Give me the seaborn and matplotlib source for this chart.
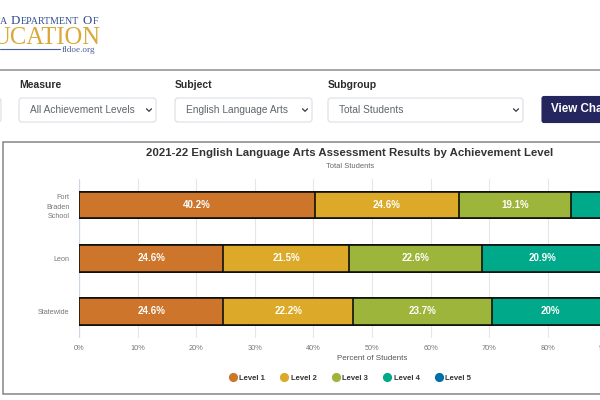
import numpy as np
import pandas as pd
import matplotlib
matplotlib.use("Agg")
import matplotlib.pyplot as plt
from matplotlib.patches import FancyBboxPatch, Rectangle
from matplotlib.lines import Line2D
import seaborn as sns

districts = ["Fort\nBraden\nSchool", "Leon", "Statewide"]
levels = ["Level 1", "Level 2", "Level 3", "Level 4", "Level 5"]
level_1 = [40.2, 24.6, 24.6]
level_2 = [24.6, 21.5, 22.2]
level_3 = [19.1, 22.6, 23.7]
level_4 = [14.0, 20.9, 20.0]
level_5 = [2.1, 10.4, 9.5]
colors = ["#CC752B", "#DCAA28", "#9DB53A", "#00A98A", "#006FA6"]
x_ticks = [0, 10, 20, 30, 40, 50, 60, 70, 80, 90, 100]

sns.set_theme(style="white")
plt.rcParams["font.family"] = ["Liberation Sans", "DejaVu Sans"]

W, H = 600, 400
fig = plt.figure(figsize=(6, 4), dpi=100, facecolor="white")

# page furniture, in pixel coordinates
bg = fig.add_axes([0, 0, 1, 1], zorder=0)
bg.set_xlim(0, W)
bg.set_ylim(H, 0)
bg.axis("off")

NAVY = "#34508F"
GOLD = "#D9A93A"
runs = [("A", 7.2, 3.5), ("D", 9.3, 0), ("EPARTMENT", 7.2, 3.5), ("O", 9.3, 0), ("F", 7.2, 0)]
rend = fig.canvas.get_renderer()
x = 0
for s, size, gap in runs:
    t = bg.text(x, 23.5, s, color=NAVY, fontsize=size,
                family="Liberation Serif", va="baseline", ha="left")
    x += t.get_window_extent(rend).width + 0.3 + gap
bg.text(-8, 44, "UCATION", color=GOLD, fontsize=17.7, family="Liberation Serif",
        va="baseline", ha="left")
bg.plot([0, 60], [49, 49], color="#4A5F9A", lw=0.8)
bg.text(62, 52, "fldoe.org", color="#4A5F9A", fontsize=6.6, family="Liberation Serif",
        va="baseline", ha="left")
bg.add_patch(Rectangle((0, 69.2), W, 1.8, color="#A8A8A8", lw=0))


def select(x0, x1, label, text, chevron=True):
    bg.add_patch(FancyBboxPatch((x0, 98), x1 - x0, 24,
                                boxstyle="round,pad=0,rounding_size=3", mutation_scale=1,
                                fc="white", ec="#DEE2E6", lw=0.9))
    if label:
        bg.text(x0, 85, label, color="#2B2B2B", fontsize=7.5, fontweight="bold",
                va="center", ha="left")
    if text:
        bg.text(x0 + 11, 110, text, color="#5F666D", fontsize=7.25, va="center", ha="left")
    if chevron:
        cx = x1 - 7
        bg.plot([cx - 2.5, cx, cx + 2.5], [108.8, 111.3, 108.8], color="#343A40", lw=0.9)


select(-20, 1, "", "", chevron=False)
select(19, 156, "Measure", "All Achievement Levels")
select(175, 312, "Subject", "English Language Arts")
select(328, 523, "Subgroup", "Total Students")
bg.add_patch(FancyBboxPatch((542, 96.5), 80, 26, boxstyle="round,pad=0,rounding_size=2",
                            mutation_scale=1, fc="#26265F", ec="#26265F", lw=0.8))
bg.text(551, 109, "View Chart", color="white", fontsize=8.4, fontweight="bold",
        va="center", ha="left", clip_on=False)

bg.add_patch(Rectangle((3, 141.5), 640, 252.5, fc="white", ec="#858585", lw=1.1))
bg.text(350, 153, "2021-22 English Language Arts Assessment Results by Achievement Level",
        color="#333333", fontsize=8.2, fontweight="bold", ha="center", va="center")
bg.text(350, 166.5, "Total Students", color="#666666", fontsize=5.4, ha="center", va="center")

# chart
ax = fig.add_axes([79 / W, (H - 338) / H, 586 / W, (338 - 178.5) / H], zorder=1)
ax.patch.set_alpha(0)

values = np.array([level_1, level_2, level_3, level_4, level_5])
cum = np.cumsum(values, axis=0)
for i in range(len(levels) - 1, -1, -1):
    df = pd.DataFrame({"district": districts, "end": cum[i]})
    sns.barplot(data=df, x="end", y="district", color=colors[i], saturation=1,
                width=0.5, edgecolor="#111111", linewidth=1.2, ax=ax, zorder=3 + (5 - i) * 0.1)

starts = np.vstack([np.zeros(3), cum[:-1]])
for i in range(len(levels)):
    for j in range(len(districts)):
        val = values[i, j]
        ax.text(starts[i, j] + val / 2, j, f"{val:g}%", color="white", fontsize=7.0,
                fontweight="bold", ha="center", va="center", zorder=6, clip_on=True)

ax.set_xlim(0, 100)
ax.set_ylim(2.5, -0.5)
ax.set_xticks(x_ticks)
ax.set_xticklabels([f"{v}%" for v in x_ticks], color="#777777", fontsize=5.3)
ax.tick_params(axis="x", length=0, pad=5)
ax.tick_params(axis="y", length=0, pad=7, labelsize=5.2, labelcolor="#777777")
for lab in ax.get_yticklabels():
    lab.set_linespacing(1.45)
ax.grid(axis="x", color="#E6E6E6", lw=0.8, zorder=0)
ax.set_axisbelow(True)
for s in ax.spines.values():
    s.set_visible(False)
ax.axvline(0, color="#CCD6EB", lw=0.9, zorder=1)
ax.set_ylabel("")
ax.set_xlabel("")
bg.text(372, 358, "Percent of Students", color="#555555", fontsize=5.8, ha="center", va="center")

handles = [Line2D([], [], marker="o", linestyle="none", markersize=5.6,
                  markerfacecolor=c, markeredgecolor=c) for c in colors]
leg = bg.legend(handles, levels, ncol=5, loc="center", bbox_to_anchor=(350 / W, (H - 378) / H),
                bbox_transform=fig.transFigure, frameon=False, fontsize=5.5,
                columnspacing=2.0, handletextpad=0.35, handlelength=1.0, borderpad=0)
for t in leg.get_texts():
    t.set_color("#333333")
    t.set_fontweight("bold")

fig.savefig("out.png", dpi=100)
